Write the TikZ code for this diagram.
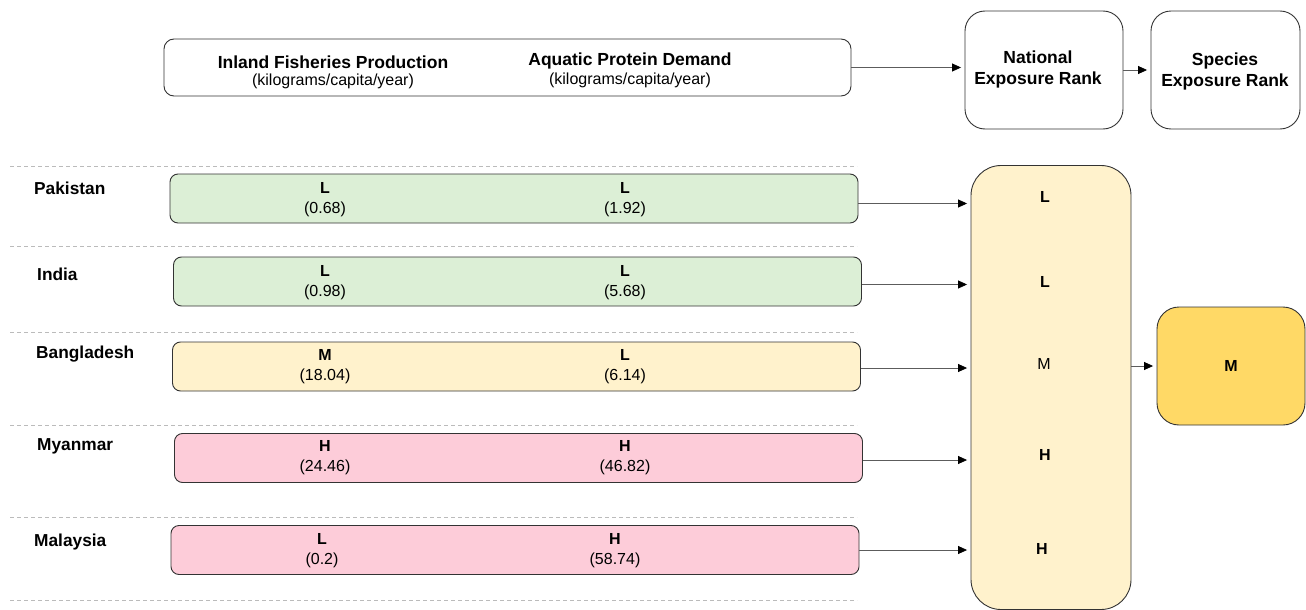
\documentclass[tikz,border=0pt]{standalone}
\usepackage{fontspec}
\setmainfont{Liberation Sans}
\usetikzlibrary{arrows.meta}
\definecolor{grnfill}{HTML}{DCEFD6}
\definecolor{ylwfill}{HTML}{FFF2CC}
\definecolor{pnkfill}{HTML}{FDCCD9}
\definecolor{goldfill}{HTML}{FFD966}
\definecolor{edge}{HTML}{333333}
\definecolor{dashgray}{HTML}{BBBBBB}
\begin{document}
\begin{tikzpicture}[x=1pt,y=-1pt,
  box/.style={draw=edge, line width=0.9pt, rounded corners=#1, inner sep=0pt},
  box/.default=8pt,
  rowbox/.style={box=8pt, minimum width=688pt, minimum height=49pt},
  cell/.style={align=center, font=\fontsize{16}{20}\selectfont, inner sep=0pt},
  head/.style={align=center, font=\fontsize{17.5}{21}\selectfont\bfseries, inner sep=0pt},
  sub/.style={font=\fontsize{16}{20}\selectfont, inner sep=0pt},
  country/.style={anchor=west, font=\fontsize{17.3}{20}\selectfont\bfseries, inner sep=0pt},
  rank/.style={font=\fontsize{16}{20}\selectfont, inner sep=0pt},
  brank/.style={font=\fontsize{16}{20}\selectfont\bfseries, inner sep=0pt},
  sep/.style={draw=dashgray, line width=0.8pt, dash pattern=on 4pt off 3pt},
  arr/.style={draw=edge!80, line width=0.8pt, -{Triangle[length=9pt,width=8pt,color=black]}, shorten >=3.5pt}
]
\useasboundingbox (0,0) rectangle (1306,610);

% top header box
\node[box=10pt, minimum width=687pt, minimum height=57pt] (hdr) at (507.5,67.5) {};
\node[head] (h1) at (333,62) {Inland Fisheries Production};
\node[sub] (h1s) at (333,81) {(kilograms/capita/year)};
\node[head] (h2) at (630,61) {Aquatic Protein Demand};
\node[sub] (h2s) at (630,80) {(kilograms/capita/year)};

\node[box=20pt, minimum width=158pt, minimum height=118pt] (nat) at (1044,70) {};
\node[head] (natt) at (1038,69) {National\\Exposure Rank};
\node[box=20pt, minimum width=149pt, minimum height=118pt] (spc) at (1225.5,70) {};
\node[head] (spct) at (1225,71) {Species\\Exposure Rank};

\draw[arr] (hdr.east) -- (hdr.east -| nat.west);
\draw[arr] (nat.east) -- (spc.west);

% dashed separators
\coordinate (d0l) at (10,166); \coordinate (d0r) at (857,166);
\coordinate (d1l) at (10,246); \coordinate (d1r) at (857,246);
\coordinate (d2l) at (10,332); \coordinate (d2r) at (857,332);
\coordinate (d3l) at (10,425); \coordinate (d3r) at (857,425);
\coordinate (d4l) at (10,517); \coordinate (d4r) at (857,517);
\coordinate (d5l) at (10,600); \coordinate (d5r) at (857,600);
\foreach \i in {0,...,5} { \draw[sep] (d\i l) -- (d\i r); }

% country labels
\node[country] (lpk) at (34,188) {Pakistan};
\node[country] (lin) at (37,274) {India};
\node[country] (lbd) at (36,354) {Bangladesh};
\node[country] (lmm) at (37,446) {Myanmar};
\node[country] (lmy) at (34,542) {Malaysia};

% row boxes
\node[rowbox, fill=grnfill] (pk) at (514,198.5) {};
\node[rowbox, fill=grnfill] (in) at (517.5,281.5) {};
\node[rowbox, fill=ylwfill] (bd) at (516.5,366.5) {};
\node[rowbox, fill=pnkfill] (mm) at (518.5,458) {};
\node[rowbox, fill=pnkfill] (my) at (515,550) {};

\node[cell] (pk1) at (325,199.5) {\textbf{L}\\(0.68)};
\node[cell] (pk2) at (625,199.5) {\textbf{L}\\(1.92)};
\node[cell] (in1) at (325,282.5) {\textbf{L}\\(0.98)};
\node[cell] (in2) at (625,282.5) {\textbf{L}\\(5.68)};
\node[cell] (bd1) at (325,366.5) {\textbf{M}\\(18.04)};
\node[cell] (bd2) at (625,366.5) {\textbf{L}\\(6.14)};
\node[cell] (mm1) at (325,458) {\textbf{H}\\(24.46)};
\node[cell] (mm2) at (625,458) {\textbf{H}\\(46.82)};
\node[cell] (my1) at (322,550.5) {\textbf{L}\\(0.2)};
\node[cell] (my2) at (615,550.5) {\textbf{H}\\(58.74)};

% big national column
\node[box=30pt, fill=ylwfill, minimum width=160pt, minimum height=444pt] (big) at (1051,387.5) {};
\node[brank] (r1) at (1045,197) {L};
\node[brank] (r2) at (1045,282) {L};
\node[rank] (r3) at (1044,364) {M};
\node[brank] (r4) at (1045,455) {H};
\node[brank] (r5) at (1042,549) {H};

\draw[arr] ([yshift=-5pt]pk.east) -- ([yshift=-5pt]pk.east -| big.west);
\draw[arr] ([yshift=-3pt]in.east) -- ([yshift=-3pt]in.east -| big.west);
\draw[arr] ([yshift=-1.5pt]bd.east) -- ([yshift=-1.5pt]bd.east -| big.west);
\draw[arr] ([yshift=-2pt]mm.east) -- ([yshift=-2pt]mm.east -| big.west);
\draw[arr] (my.east) -- (my.east -| big.west);

% species result
\node[box=22pt, fill=goldfill, minimum width=148pt, minimum height=118pt, brank] (res) at (1231,366) {M};
\draw[arr] (res.west -| big.east) -- (res.west);
\end{tikzpicture}
\end{document}
